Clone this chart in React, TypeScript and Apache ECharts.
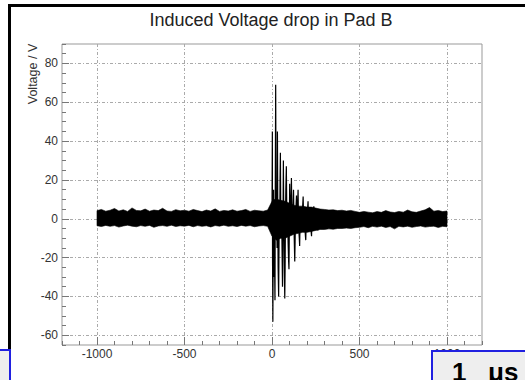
import React, { useEffect, useRef } from 'react';
import * as echarts from 'echarts';

const titleText = 'Induced Voltage drop in Pad B';
const yAxisTitle = 'Voltage / V';
const scaleLabelNumber = '1';
const scaleLabelUnit = 'μs';
const xMajorTicks = [-1000, -500, 0, 500, 1000];
const yMajorTicks = [-60, -40, -20, 0, 20, 40, 60, 80];
const xRange = [-1200, 1200];
const yRange = [-65, 90];

// noise band envelope, sampled every 25 ns from -1000 ns
const noiseStart = -1000;
const noiseStep = 25;
const noiseUpper = [
  4.2, 4.8, 3.9, 4.4, 5.3, 4.0, 4.6, 3.8, 5.6, 4.3,
  4.1, 5.0, 3.9, 4.5, 4.2, 5.4, 4.0, 3.8, 4.7, 4.1,
  4.4, 3.9, 4.8, 4.2, 3.7, 4.5, 4.0, 5.1, 3.8, 4.3,
  4.0, 4.6, 3.9, 4.2, 4.8, 3.8, 4.4, 4.1, 3.9, 4.5,
  9.0, 10.0, 9.5, 9.0, 8.0, 7.0, 6.5, 6.5, 6.0, 6.0,
  5.5, 5.0, 4.8, 4.5, 4.6, 4.2, 4.4, 4.0, 4.3, 3.8,
  3.3, 3.8, 3.4, 3.1, 3.7, 3.3, 4.2, 3.5, 3.2, 3.8,
  3.4, 4.5, 3.6, 3.3, 4.0, 4.6, 5.8, 3.9, 4.3, 3.7,
  4.0,
];
const noiseLower = [
  -3.6, -4.0, -3.4, -3.9, -3.5, -4.3, -3.7, -3.3, -3.8, -4.1,
  -3.5, -3.9, -3.4, -4.4, -3.7, -3.5, -3.9, -3.3, -4.0, -3.6,
  -3.8, -3.4, -4.1, -3.5, -3.9, -3.6, -4.2, -3.5, -3.8, -3.3,
  -3.9, -3.6, -4.0, -3.4, -3.8, -3.5, -4.1, -3.7, -3.5, -3.9,
  -9.0, -11.0, -10.0, -10.0, -9.0, -8.0, -7.5, -7.0, -7.0, -6.5,
  -6.0, -5.5, -5.5, -5.2, -5.4, -5.0, -5.0, -4.8, -5.0, -4.6,
  -4.4, -4.0, -4.6, -3.9, -4.3, -3.8, -4.5, -4.0, -5.2, -3.9,
  -4.2, -3.8, -4.4, -4.0, -3.7, -4.3, -4.0, -3.8, -4.5, -3.9,
  -4.1,
];

// ringing burst after the trigger: [time ns, voltage V]
const burstPoints: [number, number][] = [
  [-4, 1], [-2, -2], [0, 3], [2, 45], [3, -20], [5, -53], [7, -10], [9, 15],
  [11, -30], [13, 10], [15, -25], [17, -42], [19, 20], [21, 69], [23, 15],
  [25, -10], [27, 5], [29, -15], [31, 45], [33, 5], [35, -25], [38, -40],
  [40, -15], [42, 8], [44, -10], [46, 20], [48, 34], [50, 5], [52, -8],
  [55, 3], [58, -20], [60, -35], [62, -15], [64, 15], [65, 30], [67, 5],
  [69, -10], [71, -30], [73, -41], [75, -25], [77, 0], [79, 15], [82, 27],
  [84, 8], [87, -5], [90, 3], [92, -12], [95, -22], [97, -26], [99, -5],
  [101, 18], [103, 8], [106, -4], [108, 6], [111, 21], [113, 5], [116, -6],
  [118, 2], [121, 9], [123, 15], [125, 2], [127, -10], [130, -22], [132, -12],
  [134, 0], [137, 6], [140, 12], [142, 4], [145, -3], [147, 8], [149, 15],
  [151, 2], [154, -7], [156, -10], [158, -14], [160, -4], [163, 4], [166, -2],
  [169, 5], [172, 3], [175, 6], [178, 11.5], [180, 3], [183, -4], [186, 2],
  [189, -6], [191, -9], [193, -11], [195, -3], [198, 3], [201, -2], [204, 6],
  [206, 9], [208, 2], [211, -3], [214, 2], [217, -4], [220, 3], [223, -6],
  [226, -9], [228, -2], [231, 2], [234, -3], [237, 4], [239, 6.4], [241, 0],
  [244, -4], [247, 2], [250, -5], [253, 1], [256, -3], [259, 3], [262, -6],
  [265, 0], [268, 3], [271, -2], [273, 4.7], [276, -1], [279, -4], [282, 2],
  [285, -3],
];

const FONT = '"Liberation Sans", Arial, Helvetica, sans-serif';

export default function App() {
  const ref = useRef<HTMLDivElement>(null);
  useEffect(() => {
    if (!ref.current) return;
    const chart = echarts.init(ref.current, undefined, { renderer: 'svg' });
    const noiseTimes = noiseUpper.map((_, i) => noiseStart + i * noiseStep);
    const gridPos = { left: 62, top: 44, right: 43, bottom: 35 };
    const fmt = (v: number) => String(v);
    const option: any = {
      animation: false,
      backgroundColor: '#ffffff',
      textStyle: { fontFamily: FONT },
      grid: [
        { ...gridPos, show: true, borderColor: '#999', borderWidth: 1, backgroundColor: 'transparent' },
        { ...gridPos, show: false },
      ],
      xAxis: [
        {
          type: 'value', gridIndex: 0, min: xRange[0], max: xRange[1],
          axisLine: { show: false, onZero: false },
          axisTick: { show: true, inside: true, length: 8, customValues: xMajorTicks, lineStyle: { color: '#777' } },
          axisLabel: { customValues: xMajorTicks, formatter: fmt, margin: 3, fontSize: 12, color: '#333', fontFamily: FONT },
          splitLine: { show: true, lineStyle: { color: '#aaa', width: 1, type: [3, 2, 1, 2] } },
        },
        {
          type: 'value', gridIndex: 1, min: xRange[0], max: xRange[1], interval: 100,
          axisLine: { show: false, onZero: false },
          axisTick: { show: true, inside: true, length: 4, lineStyle: { color: '#777' } },
          axisLabel: { show: false },
          splitLine: { show: false },
        },
      ],
      yAxis: [
        {
          type: 'value', gridIndex: 0, min: yRange[0], max: yRange[1],
          axisLine: { show: false, onZero: false },
          axisTick: { show: true, inside: true, length: 7, customValues: yMajorTicks, lineStyle: { color: '#777' } },
          axisLabel: { customValues: yMajorTicks, formatter: fmt, margin: 4, fontSize: 12, color: '#333', fontFamily: FONT },
          splitLine: { show: true, lineStyle: { color: '#aaa', width: 1, type: [3, 2, 1, 2] } },
        },
        {
          type: 'value', gridIndex: 1, min: yRange[0], max: yRange[1], interval: 5,
          axisLine: { show: false, onZero: false },
          axisTick: { show: true, inside: true, length: 4, lineStyle: { color: '#777' } },
          axisLabel: { show: false },
          splitLine: { show: false },
        },
      ],
      series: [
        {
          type: 'custom', xAxisIndex: 0, yAxisIndex: 0, clip: true,
          data: [[0, 0]],
          encode: { x: 0, y: 1 },
          renderItem: (params: any, api: any) => {
            if (params.dataIndex !== 0) return null;
            const pts: number[][] = [];
            for (let i = 0; i < noiseTimes.length; i++) pts.push(api.coord([noiseTimes[i], noiseUpper[i]]));
            for (let i = noiseTimes.length - 1; i >= 0; i--) pts.push(api.coord([noiseTimes[i], noiseLower[i]]));
            return { type: 'polygon', shape: { points: pts }, style: { fill: '#000', stroke: '#000', lineWidth: 0.6 } };
          },
          z: 3,
        },
        {
          type: 'line', xAxisIndex: 0, yAxisIndex: 0,
          data: burstPoints, showSymbol: false, symbol: 'none',
          lineStyle: { color: '#000', width: 1.2 }, z: 4,
        },
      ],
      graphic: [
        { type: 'text', x: 271, y: 20, style: { text: titleText, font: `18px ${FONT}`, fill: '#222', textAlign: 'center', textVerticalAlign: 'middle' } },
        { type: 'text', x: 33, y: 74, rotation: Math.PI / 2, style: { text: yAxisTitle, font: `12.5px ${FONT}`, fill: '#333', textAlign: 'center', textVerticalAlign: 'middle' } },
        { type: 'rect', shape: { x: 8, y: 4, width: 517, height: 3 }, style: { fill: '#000' } },
        { type: 'rect', shape: { x: 8, y: 4, width: 3, height: 345 }, style: { fill: '#000' } },
        { type: 'rect', z: 100, shape: { x: -3, y: 350, width: 13, height: 40 }, style: { fill: '#eeeeee', stroke: '#2020e0', lineWidth: 2 } },
        { type: 'rect', z: 100, shape: { x: 432, y: 351, width: 100, height: 40 }, style: { fill: '#eeeeee', stroke: '#2020e0', lineWidth: 2 } },
        { type: 'text', z: 101, x: 452, y: 359, style: { text: scaleLabelNumber, font: `bold 26px ${FONT}`, fill: '#000', textVerticalAlign: 'top' } },
        { type: 'text', z: 101, x: 488, y: 359, style: { text: scaleLabelUnit, font: `bold 26px ${FONT}`, fill: '#000', textVerticalAlign: 'top' } },
      ],
    };
    chart.setOption(option);
    return () => chart.dispose();
  }, []);
  return <div ref={ref} style={{ position: 'fixed', left: 0, top: 0, width: 525, height: 380 }} />;
}
